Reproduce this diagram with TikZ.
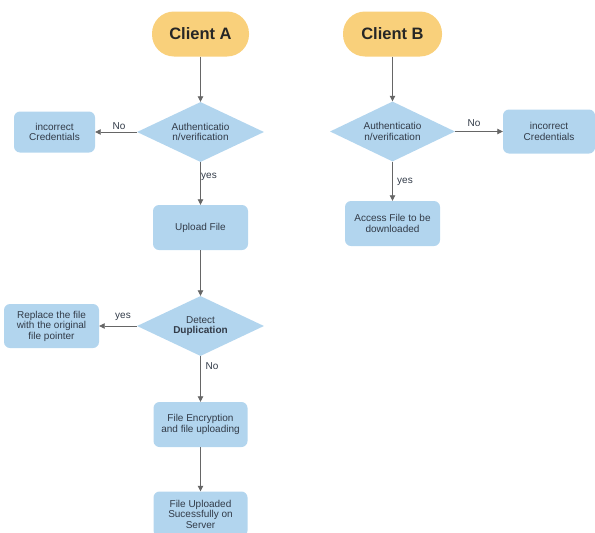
\documentclass[tikz,border=0pt]{standalone}
\usepackage{fontspec}
\setmainfont{Liberation Sans}
\usetikzlibrary{shapes.geometric,arrows.meta}
\definecolor{boxblue}{HTML}{B2D5EE}
\definecolor{startorange}{HTML}{F9D07B}
\definecolor{txt}{HTML}{323B48}
\definecolor{arr}{HTML}{666666}
\tikzset{
  base/.style={text=txt, inner sep=0pt, align=center, font=\fontsize{10}{10.5}\selectfont},
  startbox/.style={base, fill=startorange, rounded corners=22pt, font=\fontsize{16.5}{18}\selectfont\bfseries, text=black!85},
  procbox/.style={base, fill=boxblue, rounded corners=6pt},
  decision/.style={base, diamond, aspect=2.1, fill=boxblue, minimum width=127pt, minimum height=60pt},
  conn/.style={draw=arr, line width=0.8pt, -{Triangle[length=5.5pt,width=5.5pt]}},
  lbl/.style={text=txt, font=\fontsize{10}{11}\selectfont, inner sep=0pt}
}
\begin{document}
\begin{tikzpicture}[x=1pt,y=-1pt]
\useasboundingbox (0,0) rectangle (595,533);
% Client A branch
\node[startbox, minimum width=97pt, minimum height=45pt] (ca) at (200.5,34) {Client A};
\node[decision] (da) at (200.5,132) {Authenticatio\\n/verification};
\node[procbox, minimum width=81pt, minimum height=41pt] (ia) at (54.5,132) {incorrect\\Credentials};
\node[procbox, minimum width=95pt, minimum height=45pt] (ua) at (200.5,227.5) {Upload File};
\node[decision] (dd) at (200.5,326) {Detect\\\textbf{Duplication}};
\node[procbox, minimum width=95pt, minimum height=44pt] (ra) at (51.5,326) {Replace the file\\with the original\\file pointer};
\node[procbox, minimum width=94pt, minimum height=45pt] (ea) at (200.5,424.5) {File Encryption\\and file uploading};
\node[procbox, minimum width=94pt, minimum height=45pt] (fa) at (200.5,514) {File Uploaded\\Sucessfully on\\Server};
% Client B branch
\node[startbox, minimum width=99pt, minimum height=45pt] (cb) at (392.5,34) {Client B};
\node[decision, minimum width=125pt] (db) at (392.5,131.5) {Authenticatio\\n/verification};
\node[procbox, minimum width=92pt, minimum height=44pt] (ib) at (549,131.5) {incorrect\\Credentials};
\node[procbox, minimum width=95pt, minimum height=45pt] (ab) at (392.5,223.5) {Access File to be\\downloaded};
% connectors
\draw[conn] (ca) -- (da);
\draw[conn] (da.west) -- (ia.east);
\draw[conn] (da) -- (ua);
\draw[conn] (ua) -- (dd);
\draw[conn] (dd.west) -- (ra.east);
\draw[conn] (dd) -- (ea);
\draw[conn] (ea) -- (fa);
\draw[conn] (cb) -- (db);
\draw[conn] (db.east) -- (ib.west);
\draw[conn] (db) -- (ab);
% labels
\node[lbl] (l1) at (119,126) {No};
\node[lbl] (l2) at (209,177) {yes};
\node[lbl] (l3) at (123,317) {yes};
\node[lbl] (l4) at (212,366) {No};
\node[lbl] (l5) at (474,123) {No};
\node[lbl] (l6) at (405,182) {yes};
\end{tikzpicture}
\end{document}
